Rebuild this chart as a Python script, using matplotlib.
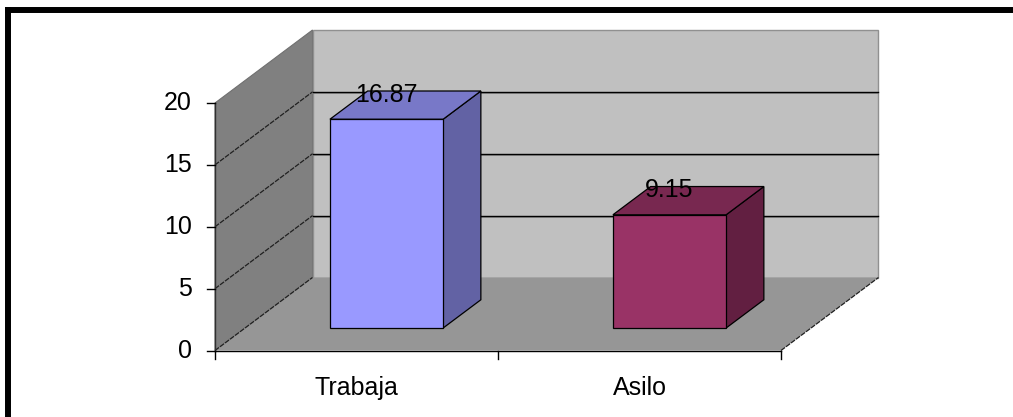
import matplotlib
matplotlib.use("Agg")
import matplotlib.pyplot as plt
from matplotlib.patches import Polygon
from matplotlib.lines import Line2D

# data
categories = ["Trabaja", "Asilo"]
values = [16.87, 9.15]
labels = ["16.87", "9.15"]
y_ticks = [0, 5, 10, 15, 20]

front_colors = ["#9999ff", "#993366"]
top_colors = ["#7878c8", "#782850"]
side_colors = ["#6262a4", "#621f41"]

plt.rcParams['font.family'] = ['Liberation Sans', 'DejaVu Sans']

# figure in pixels: 1013 x 417
fig = plt.figure(figsize=(10.13, 4.17), dpi=100)
ax = fig.add_axes([0, 0, 1, 1])

# scale: one category = 283 px, one value unit = 12.375 px
px_x = 283.0
px_y = 12.375
ax.set_xlim(-215 / px_x, (1013 - 215) / px_x)
ax.set_ylim(-66.5 / px_y, (417 - 66.5) / px_y)
ax.axis("off")

# depth offset of the 3D box, in data units
dx = 97.5 / px_x
dy = 73.0 / px_y
n = len(categories)
top = y_ticks[-1]

# left wall, back wall, floor
ax.add_patch(Polygon([(0, 0), (0, top), (dx, top + dy), (dx, dy)],
                     closed=True, facecolor="#808080", edgecolor="#707070", lw=0.8, zorder=1))
ax.add_patch(Polygon([(dx, dy), (dx, top + dy), (n + dx, top + dy), (n + dx, dy)],
                     closed=True, facecolor="#c0c0c0", edgecolor="#909090", lw=1.0, zorder=1))
ax.add_patch(Polygon([(0, 0), (n, 0), (n + dx, dy), (dx, dy)],
                     closed=True, facecolor="#969696", edgecolor="none", zorder=2))

# gridlines
for v in y_ticks[1:-1]:
    ax.plot([dx, n + dx], [v + dy - 0.12, v + dy - 0.12], color="#888888", lw=1.2, zorder=2)
    ax.plot([dx, n + dx], [v + dy, v + dy], color="black", lw=1.0, zorder=3)
for v in y_ticks[:-1]:
    ax.plot([0, dx], [v, v + dy], color="#202020", lw=0.9, ls=(0, (4, 1)), zorder=3)
ax.plot([n, n + dx], [0, dy], color="#202020", lw=0.9, ls=(0, (4, 1)), zorder=3)

# axes lines and ticks
ax.plot([0, 0], [0, top], color="#303030", lw=1.0, zorder=4)
ax.plot([0, n], [0, 0], color="black", lw=1.0, zorder=4)
tick_x = 8 / px_x
tick_y = 8 / px_y
for v in y_ticks:
    ax.plot([-tick_x, 0], [v, v], color="black", lw=1.0, zorder=4)
    ax.text(-23 / px_x, v, str(v), ha="right", va="center", fontsize=18, zorder=5)
for i in range(n + 1):
    ax.plot([i, i], [0, -tick_y], color="black", lw=1.0, zorder=4)

# bars
f = 0.308
b = 0.695
w = 0.2
for i, (cat, val) in enumerate(zip(categories, values)):
    c = i + 0.5
    x0, x1 = c - w, c + w
    front = [(x0 + f * dx, f * dy), (x1 + f * dx, f * dy),
             (x1 + f * dx, val + f * dy), (x0 + f * dx, val + f * dy)]
    top_face = [(x0 + f * dx, val + f * dy), (x1 + f * dx, val + f * dy),
                (x1 + b * dx, val + b * dy), (x0 + b * dx, val + b * dy)]
    side = [(x1 + f * dx, f * dy), (x1 + b * dx, b * dy),
            (x1 + b * dx, val + b * dy), (x1 + f * dx, val + f * dy)]
    ax.add_patch(Polygon(side, closed=True, facecolor=side_colors[i],
                         edgecolor="black", lw=0.9, zorder=6))
    ax.add_patch(Polygon(top_face, closed=True, facecolor=top_colors[i],
                         edgecolor="black", lw=0.9, zorder=6))
    ax.add_patch(Polygon(front, closed=True, facecolor=front_colors[i],
                         edgecolor="black", lw=0.9, zorder=7))
    ax.text(c + f * dx, val + b * dy - 0.3, labels[i], ha="center", va="center",
            fontsize=18, zorder=8)
    ax.text(c, -3.03, cat, ha="center", va="center", fontsize=18, zorder=5)

# frame: thick black line on top and left side only
fig.add_artist(Line2D([5 / 1013, 1.0], [1 - 9.5 / 417, 1 - 9.5 / 417],
                      color="black", lw=4.3, solid_capstyle="butt"))
fig.add_artist(Line2D([8 / 1013, 8 / 1013], [0, 1 - 7 / 417],
                      color="black", lw=4.3, solid_capstyle="butt"))

fig.savefig("out.png", dpi=100)
